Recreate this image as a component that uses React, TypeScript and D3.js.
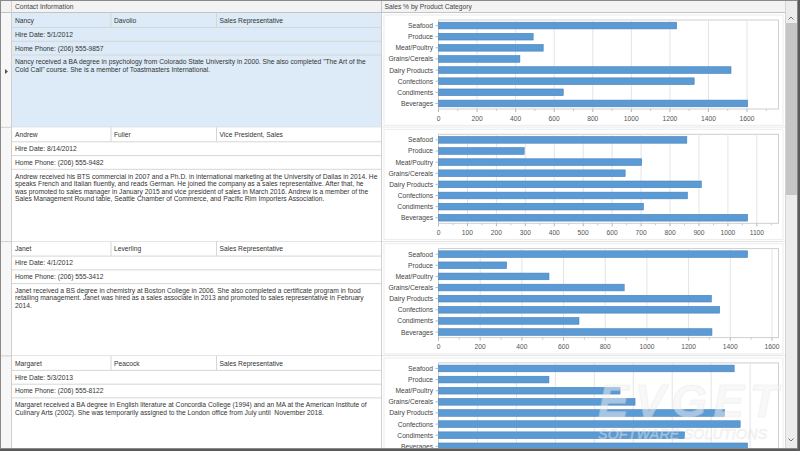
import React from "react";
import * as d3 from "d3";

const categories = ["Seafood", "Produce", "Meat/Poultry", "Grains/Cereals", "Dairy Products", "Confections", "Condiments", "Beverages"];
const firstNames = ["Nancy", "Andrew", "Janet", "Margaret"];
const lastNames = ["Davolio", "Fuller", "Leverling", "Peacock"];
const titles = ["Sales Representative", "Vice President, Sales", "Sales Representative", "Sales Representative"];
const hireDates = ["5/1/2012", "8/14/2012", "4/1/2012", "5/3/2013"];
const phones = ["(206) 555-9857", "(206) 555-9482", "(206) 555-3412", "(206) 555-8122"];
const notes = [
  [
    "Nancy received a BA degree in psychology from Colorado State University in 2000. She also completed \"The Art of the",
    "Cold Call\" course. She is a member of Toastmasters International.",
  ],
  [
    "Andrew received his BTS commercial in 2007 and a Ph.D. in international marketing at the University of Dallas in 2014. He",
    "speaks French and Italian fluently, and reads German. He joined the company as a sales representative. After that, he",
    "was promoted to sales manager in January 2015 and vice president of sales in March 2016. Andrew is a member of the",
    "Sales Management Round table, Seattle Chamber of Commerce, and Pacific Rim Importers Association.",
  ],
  [
    "Janet received a BS degree in chemistry at Boston College in 2006. She also completed a certificate program in food",
    "retailing management. Janet was hired as a sales associate in 2013 and promoted to sales representative in February",
    "2014.",
  ],
  [
    "Margaret received a BA degree in English literature at Concordia College (1994) and an MA at the American Institute of",
    "Culinary Arts (2002). She was temporarily assigned to the London office from July until  November 2018.",
  ],
];
const salesNancy = [1235, 491, 543, 422, 1517, 1326, 647, 1603];
const salesAndrew = [858, 296, 702, 645, 908, 860, 708, 1068];
const salesJanet = [1483, 327, 530, 891, 1309, 1349, 674, 1312];
const salesMargaret = [1518, 567, 932, 1009, 1468, 1549, 1263, 1587];
const salesByEmployee = [salesNancy, salesAndrew, salesJanet, salesMargaret];

const FONT = "'Liberation Sans', Arial, sans-serif";
const FS = 6.7;
const TEXT = "#333";
const LINE = "#d6d6d6";
const REC_H = 114.3;
const BODY_TOP = 13;
const BODY_BOT = 448;
const SPLIT = 381.5;
const SCROLL_X = 785;

function SalesChart({ values, top }: { values: number[]; top: number }) {
  const x0 = 438.5;
  const x1 = 778.5;
  const pTop = top + 7;
  const pH = 89;
  const pBot = pTop + pH;
  const xMax = (d3.max(values) as number) * 1.1;
  const x = d3.scaleLinear().domain([0, xMax]).range([x0, x1]);
  const ticks = x.ticks(10);
  const step = ticks[1] - ticks[0];
  const minor = d3.range(step / 2, xMax, step);
  const y = d3.scaleBand<string>().domain(categories).range([pTop, pBot]).paddingInner(0.4).paddingOuter(0.2);
  const showAxis = pBot + 9 < BODY_BOT;
  const cy = (c: string) => (y(c) as number) + y.bandwidth() / 2;
  return (
    <g>
      <rect x={x0} y={pTop} width={x1 - x0} height={pH} fill="#fff" stroke="#cfcfcf" strokeWidth={1} />
      {ticks.filter((t) => t > 0).map((t) => (
        <line key={"g" + t} x1={x(t)} x2={x(t)} y1={pTop} y2={pBot} stroke="#e4e4e4" strokeWidth={1} />
      ))}
      {categories.map((c, i) => (
        <rect
          key={c}
          x={x(0)}
          y={y(c) as number}
          width={x(values[i]) - x(0)}
          height={y.bandwidth()}
          fill="#5b9bd5"
          stroke="#4a7fb5"
          strokeWidth={0.6}
        />
      ))}
      {showAxis && ticks.map((t) => (
        <line key={"t" + t} x1={x(t)} x2={x(t)} y1={pBot} y2={pBot + 3} stroke="#b5b5b5" />
      ))}
      {showAxis && minor.map((t) => (
        <line key={"m" + t} x1={x(t)} x2={x(t)} y1={pBot} y2={pBot + 2} stroke="#c8c8c8" />
      ))}
      {showAxis && ticks.map((t) => (
        <text key={"l" + t} x={x(t)} y={pBot + 9} fontSize={FS} fill="#555" textAnchor="middle" dominantBaseline="central" fontFamily={FONT}>
          {t}
        </text>
      ))}
      {categories.map((c) => (
        <g key={"c" + c}>
          <line x1={x0 - 3} x2={x0} y1={cy(c)} y2={cy(c)} stroke="#b5b5b5" />
          <text x={x0 - 5.5} y={cy(c)} fontSize={FS} fill="#444" textAnchor="end" dominantBaseline="central" fontFamily={FONT}>
            {c}
          </text>
        </g>
      ))}
    </g>
  );
}

function Record({ i }: { i: number }) {
  const top = BODY_TOP + i * REC_H;
  const selected = i === 0;
  const r1 = top + 14.5;
  const r2 = top + 28.3;
  const r3 = top + 42;
  const bot = top + REC_H;
  return (
    <g>
      <rect x={12} y={top} width={SPLIT - 12} height={REC_H} fill={selected ? "#dcebf7" : "#fff"} />
      <rect x={SPLIT} y={top} width={SCROLL_X - SPLIT} height={REC_H} fill="#fff" />
      <rect x={384} y={top + 2} width={SCROLL_X - 386} height={REC_H - 4} fill="none" stroke="#ececec" />
      {[r1, r2, r3].map((yy, k) => (
        <line key={k} x1={12} x2={SPLIT} y1={yy} y2={yy} stroke={LINE} />
      ))}
      <line x1={111} x2={111} y1={top} y2={r1} stroke={LINE} />
      <line x1={216.5} x2={216.5} y1={top} y2={r1} stroke={LINE} />
      <line x1={0} x2={SCROLL_X} y1={bot} y2={bot} stroke="#cfcfcf" />
      <g fontFamily={FONT} fontSize={FS} fill={TEXT}>
        <text x={15} y={top + 7.3} dominantBaseline="central">{firstNames[i]}</text>
        <text x={114} y={top + 7.3} dominantBaseline="central">{lastNames[i]}</text>
        <text x={219.5} y={top + 7.3} dominantBaseline="central">{titles[i]}</text>
        <text x={15} y={top + 21.3} dominantBaseline="central">{"Hire Date: " + hireDates[i]}</text>
        <text x={15} y={top + 35} dominantBaseline="central">{"Home Phone: " + phones[i]}</text>
        {notes[i].map((ln, k) => (
          <text key={k} x={15} y={top + 48.7 + k * 7.5} dominantBaseline="central" style={{ whiteSpace: "pre" }}>
            {ln}
          </text>
        ))}
      </g>
      {selected && <path d={`M5,${top + 56} L8,${top + 58.5} L5,${top + 61} Z`} fill="#555" />}
      <SalesChart values={salesByEmployee[i]} top={top} />
    </g>
  );
}

export default function App() {
  return (
    <svg width={800} height={451} style={{ position: "absolute", left: 0, top: 0, display: "block" }}>
      <defs>
        <clipPath id="body">
          <rect x={0} y={BODY_TOP} width={SCROLL_X} height={BODY_BOT - BODY_TOP} />
        </clipPath>
      </defs>
      <rect x={0} y={0} width={800} height={451} fill="#fff" />
      <rect x={0} y={0} width={12} height={BODY_BOT} fill="#f7f7f7" />
      <g clipPath="url(#body)">
        {firstNames.map((_, i) => (
          <Record key={i} i={i} />
        ))}
      </g>
      <line x1={11.5} x2={11.5} y1={0} y2={BODY_BOT} stroke="#cfcfcf" />
      <line x1={SPLIT} x2={SPLIT} y1={0} y2={BODY_BOT} stroke="#cfcfcf" />
      <rect x={0.5} y={0.5} width={SCROLL_X} height={12} fill="#f3f3f3" stroke="none" />
      <line x1={0} x2={SCROLL_X} y1={12.5} y2={12.5} stroke="#c4c4c4" />
      <line x1={11.5} x2={11.5} y1={0} y2={12.5} stroke="#cfcfcf" />
      <line x1={SPLIT} x2={SPLIT} y1={0} y2={12.5} stroke="#c4c4c4" />
      <text x={15} y={6.6} fontSize={FS} fill="#444" fontFamily={FONT} dominantBaseline="central">Contact Information</text>
      <text x={384.5} y={6.6} fontSize={FS} fill="#444" fontFamily={FONT} dominantBaseline="central">Sales % by Product Category</text>
      <g opacity={0.5} fontFamily={FONT} fontStyle="italic" pointerEvents="none">
        <text x={598} y={417} fontSize={46} fontWeight="bold" fill="#f2f2f2" stroke="#e0e0e0" strokeWidth={0.6} letterSpacing={6}>EVGET</text>
        <text x={598} y={439} fontSize={14} fill="#f2f2f2" stroke="#d8d8d8" strokeWidth={0.5} letterSpacing={0.3}>SOFTWARE SOLUTIONS</text>
      </g>
      <rect x={SCROLL_X} y={0} width={12} height={BODY_BOT} fill="#ececec" />
      <line x1={SCROLL_X + 0.5} x2={SCROLL_X + 0.5} y1={0} y2={BODY_BOT} stroke="#d4d4d4" />
      <rect x={SCROLL_X + 1} y={23} width={11} height={172} fill="#c6c6c6" />
      <path d={`M${SCROLL_X + 3.5},19.5 L${SCROLL_X + 6},17 L${SCROLL_X + 8.5},19.5`} fill="none" stroke="#777" strokeWidth={1} />
      <path d={`M${SCROLL_X + 3.5},438.5 L${SCROLL_X + 6},441 L${SCROLL_X + 8.5},438.5`} fill="none" stroke="#777" strokeWidth={1} />
      <rect x={0.5} y={0.5} width={797} height={BODY_BOT} fill="none" stroke="#8a8a8a" />
      <rect x={0} y={BODY_BOT + 1} width={800} height={451 - BODY_BOT - 1} fill="#5a5a5a" />
      <rect x={798} y={0} width={2} height={451} fill="#5a5a5a" />
    </svg>
  );
}
